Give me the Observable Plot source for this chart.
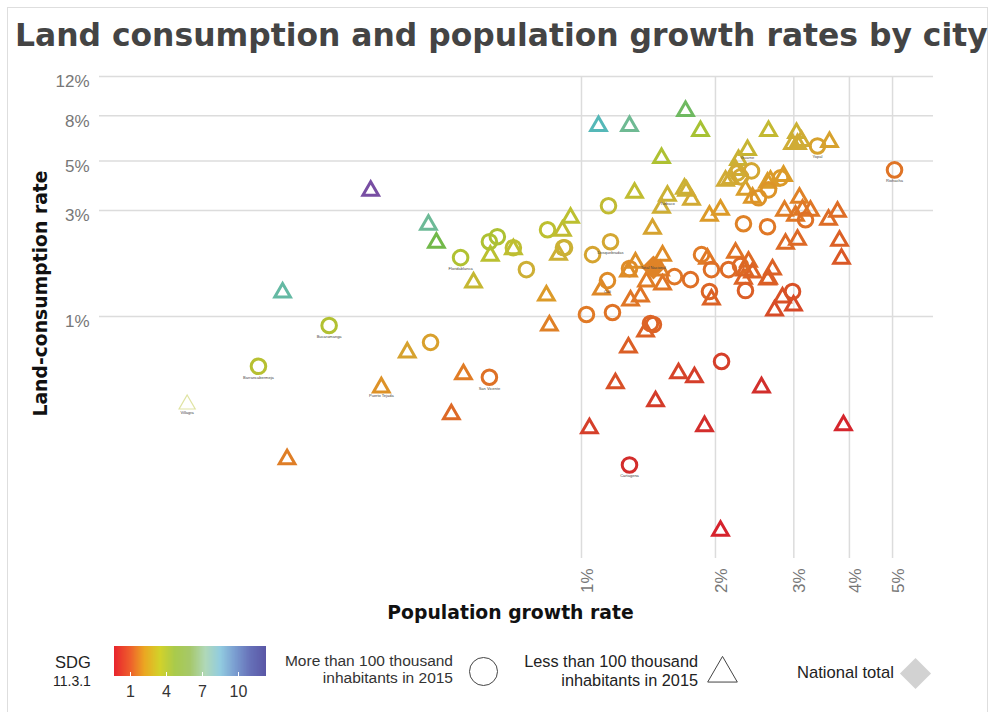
<!DOCTYPE html>
<html><head><meta charset="utf-8">
<script src="https://cdn.jsdelivr.net/npm/d3@7"></script>
<script src="https://cdn.jsdelivr.net/npm/@observablehq/plot@0.6"></script>
<style>
html,body{margin:0;padding:0;background:#fff;overflow:hidden;width:990px;height:712px}
body{position:relative;font-family:"Liberation Sans",Arial,sans-serif}
#frame{position:absolute;left:7px;top:7px;width:981px;height:760px;box-sizing:border-box;border:1.5px solid #dedede;pointer-events:none}
h1{margin:0;height:60px;padding:0 0 0 15px;font:bold 31.4px/70px "DejaVu Sans",sans-serif;color:#444;white-space:nowrap;position:relative}
#chart svg{display:block}
.t{position:absolute;white-space:nowrap;line-height:1}
.r{text-align:right}
.g{position:absolute}
#ramp{position:absolute;left:114px;top:646px}
#ramp .tick line{stroke:#fff;stroke-width:1}
#ramp .tick text{fill:#333}
#ramp svg{overflow:visible;display:block}
</style></head><body>
<div id="frame"></div>
<h1>Land consumption and population growth rates by city</h1>
<div id="chart"></div>
<div class="t" style="left:55px;top:654px;font-size:16.5px;color:#222">SDG</div>
<div class="t" style="left:53px;top:674px;font-size:14px;color:#222">11.3.1</div>
<div id="ramp"></div>
<div class="t r" style="right:537px;top:653px;font-size:15.5px;color:#333;line-height:16.5px">More than 100 thousand<br>inhabitants in 2015</div>
<div class="t r" style="right:292px;top:652px;font-size:16.3px;color:#222;line-height:19px">Less than 100 thousand<br>inhabitants in 2015</div>
<div class="t" style="left:797px;top:665px;font-size:16.6px;color:#222">National total</div>
<div class="g" id="glyphCircle" style="left:463px;top:651px"></div>
<div class="g" id="glyphTriangle" style="left:702px;top:651px"></div>
<div class="g" id="glyphDiamond" style="left:895px;top:653px"></div>
<script>
// [population growth %, land consumption %, label]
const largeCities = [
[0.271,0.911,"Bucaramanga"],[0.188,0.597,"Barrancabermeja"],[0.535,1.839,"Floridablanca"],[0.621,2.169],[0.647,2.284],
[0.703,2.039],[0.752,1.625],[0.458,0.765],[0.621,0.533,"San Vicente"],[0.839,2.455],[0.911,2.039],[1.150,3.146],[1.162,2.169,"Dosquebradas"],
[1.059,1.897],[2.312,2.612],[2.618,2.533],[3.391,5.845,"Yopal"],[5.051,4.562,"Riohacha"],[2.410,4.516],[2.242,4.423],
[2.277,4.244],[2.800,4.201],[2.632,3.711],[2.499,3.417],[3.187,2.723],[0.916,2.039],[1.282,1.642],[1.618,1.511],
[1.758,1.465],[1.861,1.897],[1.959,1.625],[2.140,1.625],[2.277,1.693],[2.336,1.308],[1.939,1.295],[1.144,1.450,"Cali"],
[2.980,1.295],[1.026,1.021],[1.174,1.042],[1.451,0.921],[1.429,0.930],[2.064,0.628],[1.282,0.215,"Cartagena"]];
const smallCities = [
[0.336,3.750],[0.453,2.640],[0.472,2.192],[0.213,1.308],[0.624,1.917],[0.703,2.050],[0.572,1.450],[0.834,1.268],
[0.847,0.930],[0.406,0.704],[0.355,0.490,"Puerto Tejada"],[0.543,0.561],[0.510,0.371],[0.218,0.233],[0.906,2.481],[0.945,2.837],
[0.888,1.936],[1.092,7.336],[1.282,7.336],[1.713,8.565],[1.851,6.967],[1.513,5.272],[1.316,3.673],[1.560,3.561,"Turbaco"],
[1.513,3.146],[1.704,3.828],[1.722,3.750],[1.767,3.417],[1.444,2.533],[1.939,2.897],[2.053,3.082],[2.632,6.967],
[3.042,6.825],[2.980,6.092],[3.122,6.284],[3.058,6.092],[3.608,6.219],[2.361,5.726,"Guarne"],[2.253,5.164],[2.219,4.658],
[2.107,4.158],[2.162,4.244],[2.618,4.073],[2.844,4.378],[2.659,4.158],[2.336,3.789],[2.423,3.488],[3.089,3.488],
[2.859,3.050],[3.138,3.082],[3.270,3.050],[3.026,2.897],[3.590,2.779],[3.761,3.019],[3.800,2.238],[3.058,2.261],
[2.874,2.169],[1.521,1.917],[1.322,1.783],[1.275,1.625],[1.505,1.642],[1.521,1.421],[1.400,1.465],[1.919,1.858],
[2.219,1.977],[2.373,1.801],[2.324,1.642],[2.312,1.511],[2.423,1.608],[2.687,1.659],[2.632,1.511],[2.618,1.496],
[1.959,1.217],[3.839,1.858],[1.109,1.349],[1.357,1.255],[1.289,1.204],[2.829,1.242],[2.995,1.144],[2.715,1.086],
[1.393,0.874],[1.275,0.741],[1.652,0.567],[1.794,0.544],[1.192,0.511],[2.538,0.490],[1.467,0.424],[1.042,0.321],
[1.890,0.328],[3.879,0.331],[2.053,0.111]];
const paleCities = [[0.130,0.411,"Villagra"]];
const nationalTotal = [[1.451,1.659,"Total Nacional"]];

const growthTicks = [1,2,3,4,5];
const landTicks = [1,3,5,8,12];
const sdgTicks = [1,4,7,10];
const pointStops  = [0,0.2,0.5,1,1.5,2,3,4,4.7,5.7,6.7,8,10,11,12.33];
const pointColors = ["#d81e2e","#d2302c","#da5a26","#e07a26","#dc9a28","#d0ac36","#bcc030","#a0c235","#6eb84c","#70ba92","#55b8b8","#4fa8d0","#5a70c0","#7a4fa3","#6a4aa0"];
const rampStops  = [-0.31,0.954,2.218,3.482,4.746,6.01,7.274,8.538,9.802,11.066,12.33];
const rampColors = ["#e8262d","#ee5c2c","#eba822","#d3d22a","#a9ca4c","#a6c86a","#b0d8b8","#92cce0","#7a9cd0","#6670b8","#5a57a6"];

const sdg = d => d[1] / d[0];
const pct = d => d + "%";

const chart = Plot.plot({
  width: 990, height: 570,
  marginLeft: 99, marginRight: 57, marginTop: 16, marginBottom: 72,
  style: {fontFamily: '"Liberation Sans",Arial,sans-serif', background: "transparent", overflow: "visible"},
  x: {type: "log", domain: [0.0826, 6.18]},
  y: {type: "log", domain: [0.0816, 12], axis: null},
  color: {type: "linear", domain: pointStops, range: pointColors, interpolate: "rgb"},
  marks: [
    Plot.gridX(growthTicks, {stroke: "#dcdcdc", strokeOpacity: 1, strokeWidth: 1.5}),
    Plot.gridY(landTicks, {stroke: "#dcdcdc", strokeOpacity: 1, strokeWidth: 1.5}),
    Plot.text(landTicks, {y: d => d, text: pct, frameAnchor: "left", textAnchor: "end", dx: -10, dy: 5.5, fontSize: 17, fill: "#777"}),
    Plot.axisX({ticks: growthTicks, tickFormat: pct, tickSize: 0, tickPadding: 10, tickRotate: -90, fontSize: 17, color: "#777", dx: 6, label: null}),
    Plot.text(["Population growth rate"], {frameAnchor: "bottom", dx: -6, dy: 60, fontSize: 18.8, fontWeight: "bold", fill: "#111", fontFamily: "DejaVu Sans"}),
    Plot.text(["Land-consumption rate"], {frameAnchor: "left", textAnchor: "middle", rotate: -90, dx: -59, dy: -24, fontSize: 18.8, fontWeight: "bold", fill: "#111", fontFamily: "DejaVu Sans"}),
    Plot.dot(paleCities, {x: d => d[0], y: d => d[1], stroke: sdg, symbol: "triangle", r: 6, strokeWidth: 1.2, strokeOpacity: 0.45, dy: 2}),
    Plot.dot(smallCities, {x: d => d[0], y: d => d[1], stroke: sdg, symbol: "triangle", r: 5.8, strokeWidth: 3, dy: 2}),
    Plot.dot(largeCities, {x: d => d[0], y: d => d[1], stroke: sdg, symbol: "circle", r: 7.3, strokeWidth: 3}),
    Plot.dot(nationalTotal, {x: d => d[0], y: d => d[1], fill: sdg, symbol: "diamond2", r: 10.8}),
    Plot.text(smallCities.concat(paleCities).filter(d => d[2]), {x: d => d[0], y: d => d[1], text: d => d[2], dy: 10, fontSize: 4, fill: "#444"}),
    Plot.text(largeCities.filter(d => d[2]), {x: d => d[0], y: d => d[1], text: d => d[2], dy: 11, fontSize: 4, fill: "#444"}),
    Plot.text(nationalTotal, {x: d => d[0], y: d => d[1], text: d => d[2], fontSize: 4, fill: "#444"})
  ]
});
document.getElementById("chart").append(chart);

const ramp = Plot.legend({
  color: {type: "linear", domain: rampStops, range: rampColors, interpolate: "rgb"},
  width: 152, height: 54, marginLeft: 0, marginRight: 0, marginTop: 0, marginBottom: 24,
  ticks: sdgTicks, tickSize: 7, style: {fontSize: "16px", fontFamily: '"Liberation Sans"', background: "transparent", color: "#333", overflow: "visible"}
});
document.getElementById("ramp").append(ramp);
d3.select(ramp).selectAll(".tick line").attr("y1", -4).attr("y2", 0);

function glyph(id, symbol, r, opts, size) {
  document.getElementById(id).append(Plot.plot({
    width: size, height: size, margin: 0, axis: null,
    style: {background: "transparent"},
    marks: [Plot.dot([0], {frameAnchor: "middle", symbol, r, ...opts})]
  }));
}
glyph("glyphCircle", "circle", 14, {stroke: "#444", strokeWidth: 1, fill: "none"}, 40);
glyph("glyphTriangle", "triangle", 11, {stroke: "#444", strokeWidth: 1, fill: "none", dy: 2}, 40);
glyph("glyphDiamond", "diamond2", 14, {fill: "#d2d2d2"}, 40);
</script></body></html>
